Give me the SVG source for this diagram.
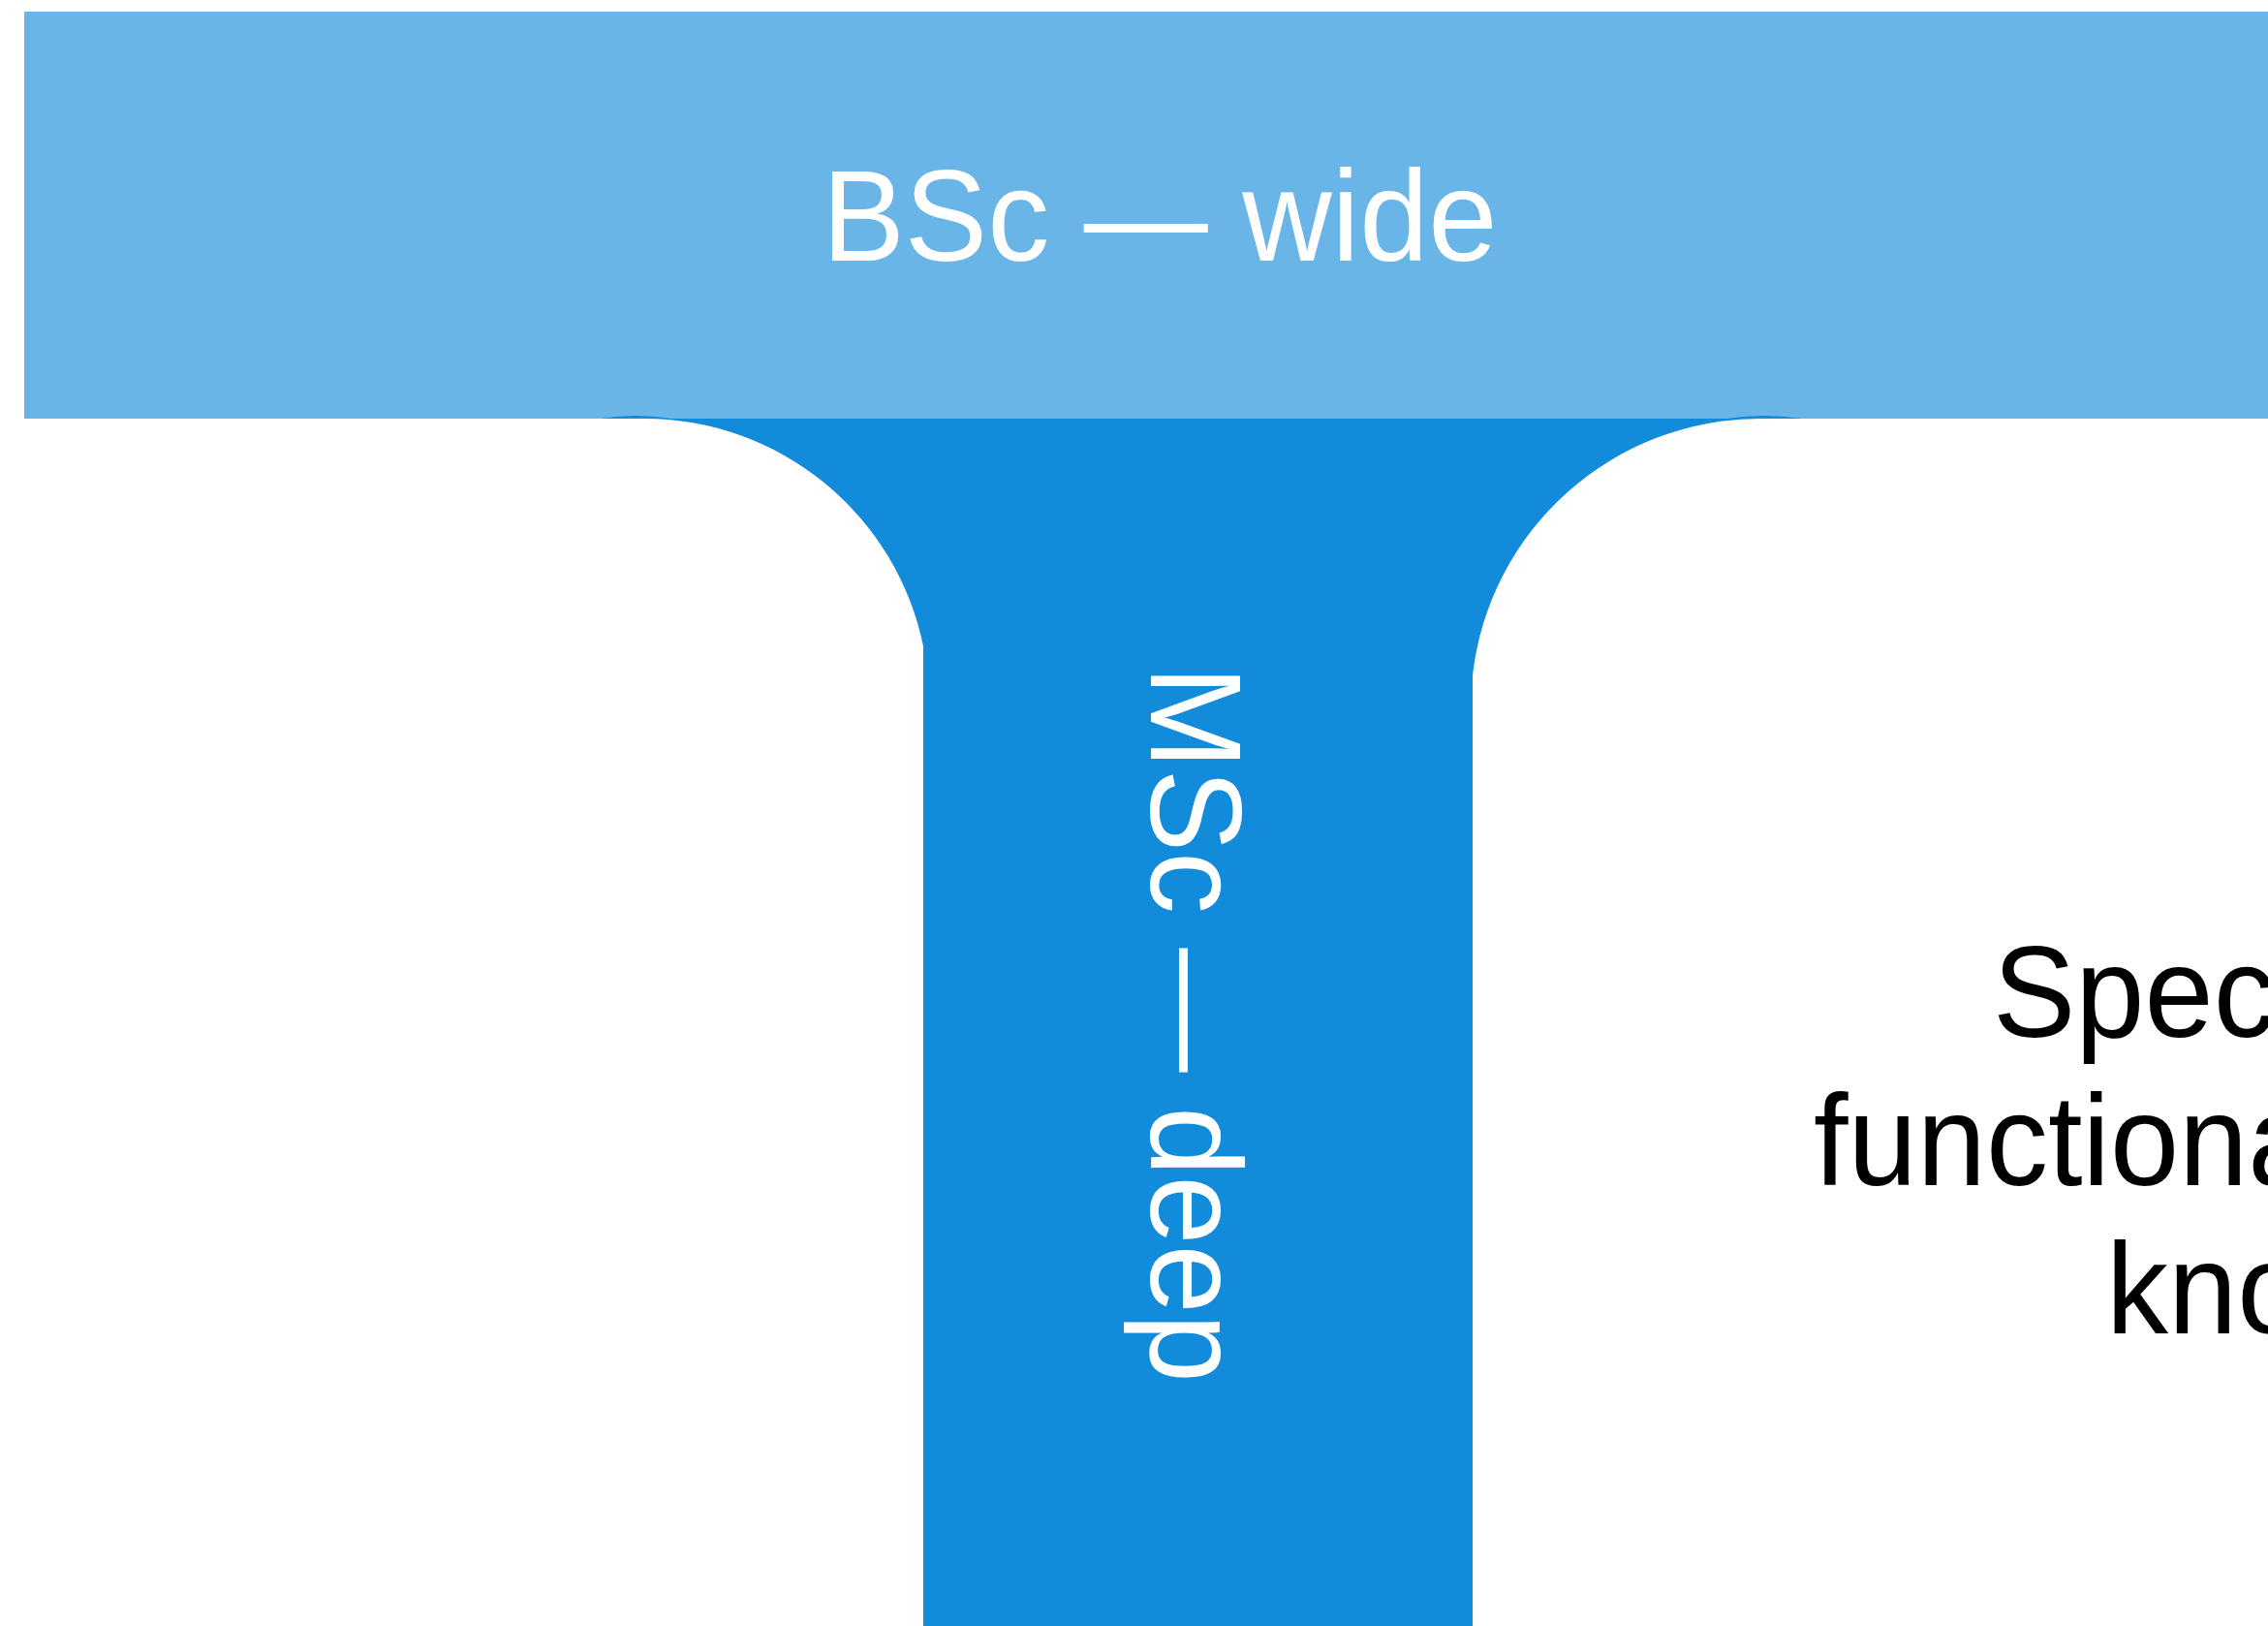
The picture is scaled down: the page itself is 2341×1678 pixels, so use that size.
<svg xmlns="http://www.w3.org/2000/svg" width="2341" height="1678" viewBox="0 0 2341 1678">
<style>
.light{fill:#6AB5E7}
.dark{fill:#128BDA}
.lbl{font-family:"Liberation Sans",Arial,sans-serif;font-size:128px}
.w{fill:#FFFFFF}
.k{fill:#000000}
</style>
<rect x="0" y="0" width="2341" height="1678" fill="#FFFFFF"/>
<g id="stem">
<rect class="dark" x="953" y="432" width="567" height="1246"/>
<path class="dark" d="M665,432 L953,432 L953,667 A294,294 0 0 0 665,432 Z"/>
<path class="dark" d="M1520,432 L1817,432 A299,299 0 0 0 1520,696.5 Z"/>
<text class="lbl w" transform="translate(1188,1057) rotate(90) scale(1,1.045)" text-anchor="middle">MSc — deep</text>
</g>
<g id="bar">
<rect class="light" x="25" y="12" width="2316" height="420"/>
<text class="lbl w" transform="translate(1197,269) scale(1,1.045)" text-anchor="middle">BSc — wide</text>
</g>
<g id="fillet-edges">
<path class="dark" d="M620,432 Q656,426 693,432 Z"/>
<path class="dark" d="M1782,432 Q1821,426 1860,432 Z"/>
</g>
<g id="note">
<text class="lbl k" transform="translate(2057,1070) scale(1,1.045)">Specialized</text>
<text class="lbl k" transform="translate(1872,1223) scale(1,1.045)">functional area</text>
<text class="lbl k" transform="translate(2174,1376) scale(1,1.045)">knowledge</text>
</g>
<g id="connectors"/>
</svg>
